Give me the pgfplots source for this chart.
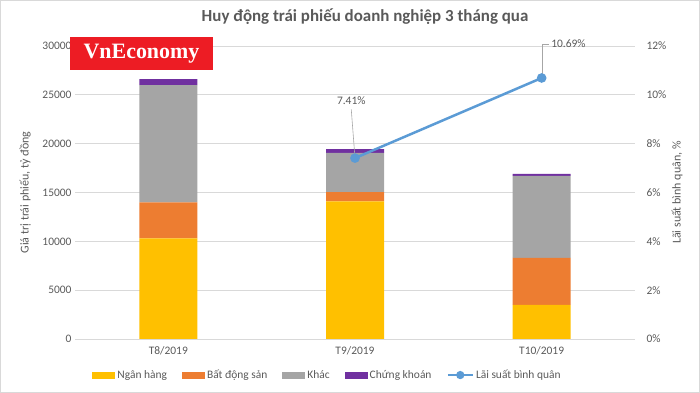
\documentclass[border=0pt]{standalone}
\usepackage{fontspec}
\setmainfont{Carlito}
\newfontfamily\logofont{Liberation Serif}
\usepackage{pgfplots}
\pgfplotsset{compat=1.18}
\definecolor{cNH}{HTML}{FFC000}
\definecolor{cBDS}{HTML}{ED7D31}
\definecolor{cKhac}{HTML}{A5A5A5}
\definecolor{cCK}{HTML}{7030A0}
\definecolor{cLine}{HTML}{5B9BD5}
\definecolor{cTxt}{HTML}{595959}
\definecolor{cGrid}{HTML}{D9D9D9}
\definecolor{cLogo}{HTML}{ED1C24}
\pgfplotsset{
  mybar/.style={legend image code/.code={\fill[##1] (0bp,-3.5bp) rectangle (23bp,3.5bp);}},
  myline/.style={legend image code/.code={\draw[##1] (0bp,0bp) -- (25bp,0bp); \fill[cLine] (12.5bp,0bp) circle (2.8bp);}},
}
\begin{document}
\begin{tikzpicture}
\path[use as bounding box] (0,0) rectangle (700bp,393bp);
\draw[cGrid, line width=0.8bp] (0.4bp,0.4bp) rectangle (699.6bp,392.6bp);
\begin{axis}[
  at={(75bp,54bp)}, anchor=south west, scale only axis,
  width=560bp, height=293bp,
  xmin=-0.5, xmax=2.5, ymin=0, ymax=30000,
  ybar stacked, bar width=58bp,
  xtick={0,1,2}, xticklabels={T8/2019,T9/2019,T10/2019},
  ytick={0,5000,...,30000},
  scaled y ticks=false,
  /pgf/number format/1000 sep={},
  /pgf/number format/assume math mode=true,
  ymajorgrids, grid style={cGrid, line width=0.8bp},
  axis x line*=bottom, axis y line*=left,
  x axis line style={cGrid, line width=0.8bp, -},
  y axis line style={draw=none},
  major tick length=0pt,
  tick label style={cTxt, font=\fontsize{11.5}{13}\selectfont},
  y tick label style={xshift=0bp},
  x tick label style={yshift=-4bp},
  ylabel={Giá trị trái phiếu, tỷ đồng},
  ylabel style={at={(axis description cs:-0.089,0.5)}, anchor=center, cTxt, font=\fontsize{12}{14}\selectfont},
]
\addplot[fill=cNH, draw=none] coordinates {(0,10300) (1,14100) (2,3500)};
\addplot[fill=cBDS, draw=none] coordinates {(0,3700) (1,950) (2,4800)};
\addplot[fill=cKhac, draw=none] coordinates {(0,12000) (1,4000) (2,8400)};
\addplot[fill=cCK, draw=none] coordinates {(0,600) (1,400) (2,200)};
\end{axis}
\node[fill=cLogo, text=white, font=\logofont\bfseries\fontsize{22}{24}\selectfont, minimum width=143bp, minimum height=33bp, inner sep=0pt] at (141.5bp,339.5bp) {VnEconomy};
\begin{axis}[
  at={(75bp,54bp)}, anchor=south west, scale only axis,
  width=560bp, height=293bp,
  xmin=-0.5, xmax=2.5, ymin=0, ymax=12,
  clip=false,
  axis x line=none, axis y line*=right,
  y axis line style={draw=none},
  major tick length=0pt,
  ytick={0,2,...,12},
  yticklabel={\pgfmathprintnumber[assume math mode=true]{\tick}\%},
  tick label style={cTxt, font=\fontsize{11.5}{13}\selectfont},
  y tick label style={xshift=8bp},
  ylabel={Lãi suất bình quân, \%},
  ylabel style={at={(axis description cs:1.075,0.5)}, anchor=center, cTxt, font=\fontsize{12}{14}\selectfont},
  legend columns=5,
  legend style={at={(axis description cs:0.451,-0.123)}, anchor=center, draw=none, fill=none,
    font=\fontsize{11.5}{13}\selectfont, text=cTxt, inner sep=0pt,
    /tikz/every even column/.append style={column sep=13bp}},
]
\addlegendimage{mybar, fill=cNH, draw=none}
\addlegendentry{Ngân hàng}
\addlegendimage{mybar, fill=cBDS, draw=none}
\addlegendentry{Bất động sản}
\addlegendimage{mybar, fill=cKhac, draw=none}
\addlegendentry{Khác}
\addlegendimage{mybar, fill=cCK, draw=none}
\addlegendentry{Chứng khoán}
\addplot[myline, cLine, line width=2.5bp, mark=*, mark size=3.5bp, mark options={fill=cLine, draw=cLine}] coordinates {(1,7.41) (2,10.69)};
\addlegendentry{Lãi suất bình quân}
\draw[gray!70, line width=0.6bp] (axis cs:1,7.41) -- (axis cs:0.98,9.4);
\node[cTxt, font=\fontsize{11.5}{13}\selectfont] at (axis cs:0.98,9.75) {7.41\%};
\draw[gray!70, line width=0.6bp] (axis cs:2.003,10.69) -- (axis cs:2.003,12.08) -- (axis cs:2.04,12.08);
\node[cTxt, font=\fontsize{11.5}{13}\selectfont, anchor=west, inner sep=1bp] at (axis cs:2.045,12.08) {10.69\%};
\end{axis}
\node[text=cTxt, font=\fontsize{17}{19}\selectfont\bfseries] at (365bp,376bp) {Huy động trái phiếu doanh nghiệp 3 tháng qua};
\end{tikzpicture}
\end{document}
